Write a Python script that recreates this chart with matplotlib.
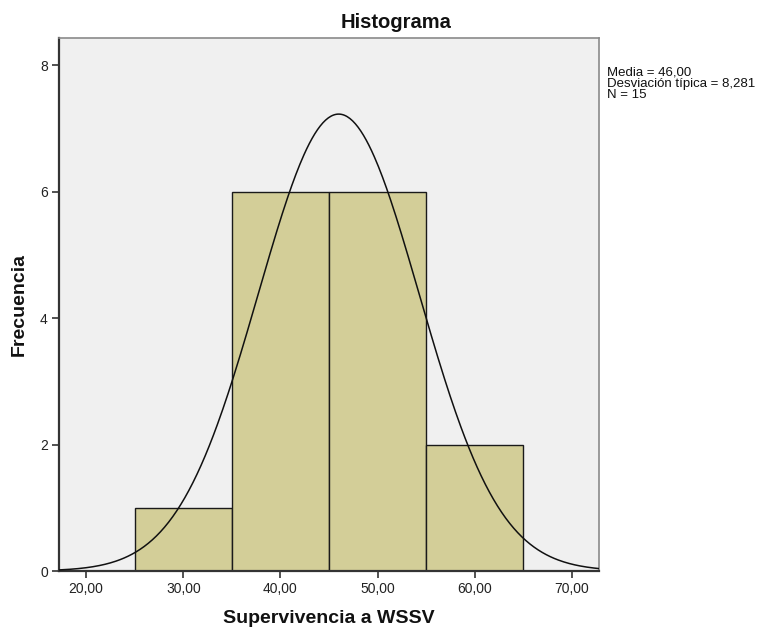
import numpy as np
import matplotlib
matplotlib.use("Agg")
import matplotlib.pyplot as plt

# Histogram bins (Supervivencia a WSSV) and their counts
bin_edges = [25, 35, 45, 55, 65]
counts = [1, 6, 6, 2]
mean = 46.00
std = 8.281
n = 15
xticks = [20, 30, 40, 50, 60, 70]
xtick_labels = ["20,00", "30,00", "40,00", "50,00", "60,00", "70,00"]
yticks = [0, 2, 4, 6, 8]

plt.rcParams['font.family'] = ['Liberation Sans', 'DejaVu Sans']

fig = plt.figure(figsize=(7.64, 6.29), dpi=100)
ax = fig.add_axes([0.0772, 0.0922, 0.7068, 0.8474])
ax.set_facecolor("#F0F0F0")

lefts = bin_edges[:-1]
widths = np.diff(bin_edges)
ax.bar(lefts, counts, width=widths, align="edge", color="#D3CE98",
       edgecolor="#1a1a1a", linewidth=1.0, zorder=2)

# Fitted normal curve scaled to counts
xs = np.linspace(17.2, 72.8, 400)
bw = widths[0]
ys = n * bw / (std * np.sqrt(2 * np.pi)) * np.exp(-0.5 * ((xs - mean) / std) ** 2)
ax.plot(xs, ys, color="#111111", linewidth=1.1, zorder=3)

ax.set_xlim(17.2, 72.8)
ax.set_ylim(0, 8.43)
ax.set_xticks(xticks)
ax.set_xticklabels(xtick_labels)
ax.set_yticks(yticks)
ax.tick_params(axis="both", direction="out", length=5, width=1.2,
               color="#333333", labelsize=10, labelcolor="#222222", pad=3)

for side in ["left", "bottom"]:
    ax.spines[side].set_color("#333333")
    ax.spines[side].set_linewidth(1.6)
for side in ["top", "right"]:
    ax.spines[side].set_color("#8a8a8a")
    ax.spines[side].set_linewidth(1.2)

fig.text(0.519, 1 - 28 / 629, "Histograma", fontsize=14.5, fontweight="bold",
         color="#111111", ha="center", va="baseline")
ax.set_xlabel("Supervivencia a WSSV", fontsize=14, fontweight="bold",
              color="#111111", labelpad=10)
ax.set_ylabel("Frecuencia", fontsize=14, fontweight="bold",
              color="#111111", labelpad=9)

fig.text(0.795, 0.895,
         "Media = 46,00\nDesviación típica = 8,281\nN = 15",
         fontsize=9.5, color="#111111", va="top", ha="left", linespacing=0.95)

fig.savefig("out.png", dpi=100, facecolor="white")
